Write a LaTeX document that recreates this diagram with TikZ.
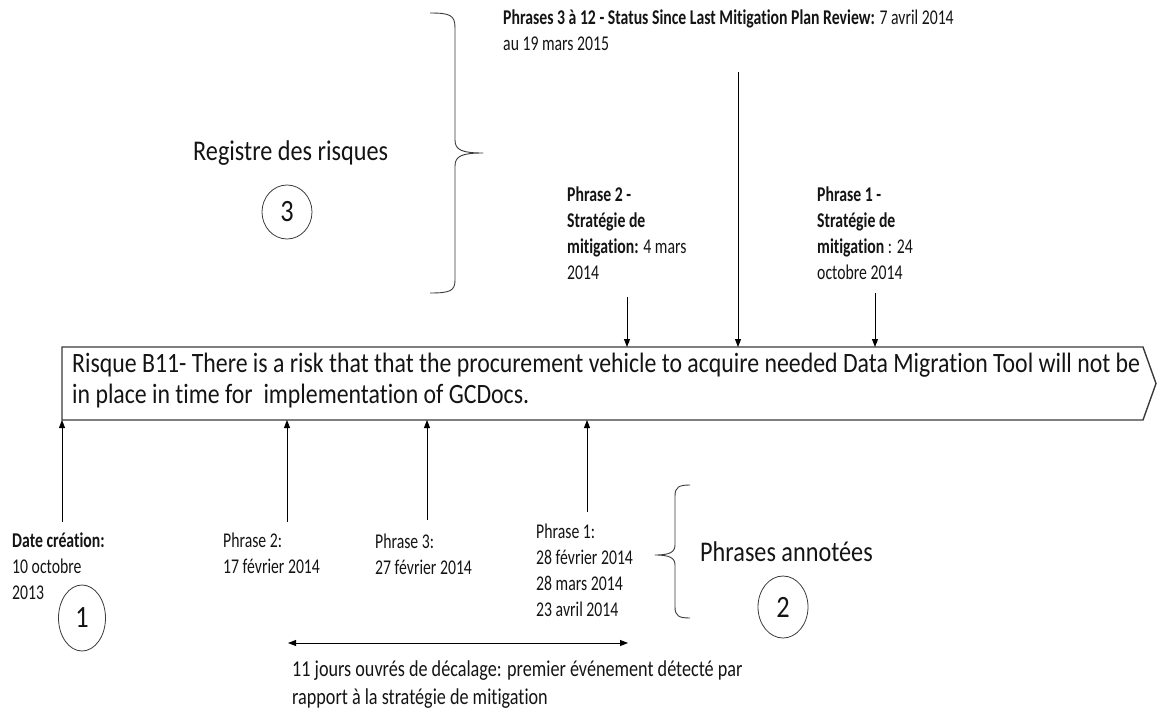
\documentclass[tikz,border=0pt]{standalone}
\usepackage{fontspec}
\usetikzlibrary{arrows.meta,shapes.geometric}
\newfontfamily\smallfnt[FakeStretch=0.75,Ligatures=NoCommon]{Carlito}
\newfontfamily\midfnt[FakeStretch=0.80,Ligatures=NoCommon]{Carlito}
\newfontfamily\bigfnt[FakeStretch=0.85,Ligatures=NoCommon]{Carlito}
\definecolor{ink}{HTML}{141414}
\definecolor{edge}{HTML}{3A3A3A}

\begin{document}
\begin{tikzpicture}[x=1pt,y=-1pt,
  % multi-line labels are placed by the baseline of their last line
  lbl/.style={inner sep=0pt, anchor=base west, align=left, text=ink,
              font=\smallfnt\fontsize{21}{26}\selectfont},
  note/.style={inner sep=0pt, anchor=base west, align=left, text=ink,
              font=\midfnt\fontsize{22.7}{28}\selectfont},
  big/.style={inner sep=0pt, anchor=base west, align=left, text=ink,
              font=\bigfnt\fontsize{28.5}{31}\selectfont},
  num/.style={draw=edge, line width=0.8pt, ellipse, inner sep=0pt, text=ink,
              font=\bigfnt\fontsize{31}{32}\selectfont},
  arr/.style={draw=black, line width=0.9pt, -{Triangle[length=8pt,width=6pt]}},
  twoarr/.style={draw=black, line width=0.9pt,
                 {Triangle[length=8pt,width=6pt]}-{Triangle[length=8pt,width=6pt]}},
  brace/.style={draw=edge, line width=0.9pt, line join=round},
]
\useasboundingbox (0,0) rectangle (1157,715);

% risk banner
\draw[draw=edge, line width=1.4pt, line join=miter]
  (62,347) -- (1143,347) -- (1156,383.5) -- (1143,420) -- (62,420) -- cycle;
\coordinate (boxtop) at (62,347);
\coordinate (boxbot) at (62,420);
\node[big, font=\bigfnt\fontsize{28}{31}\selectfont] (risk) at (72,403)
  {Risque B11- There is a risk that that the procurement vehicle to acquire needed Data Migration Tool will not be\\
   in place in time for~ implementation of GCDocs.};

% top block: risk register
\node[lbl] (status) at (503,50)
  {\textbf{Phrases 3 à 12 - Status Since Last Mitigation Plan Review:} 7 avril 2014\\au 19 mars 2015};
\node[lbl] (strat2) at (567,279)
  {\textbf{Phrase 2 -}\\\textbf{Stratégie de}\\\textbf{mitigation:} 4 mars\\2014};
\node[lbl] (strat1) at (817,279)
  {\textbf{Phrase 1 -}\\\textbf{Stratégie de}\\\textbf{mitigation} : 24\\octobre 2014};

\coordinate (d1) at (627,297);
\coordinate (d2) at (738,72);
\coordinate (d3) at (875,293);
\draw[arr] (d1) -- (d1 |- boxtop);
\draw[arr] (d2) -- (d2 |- boxtop);
\draw[arr] (d3) -- (d3 |- boxtop);

\node[big] (registre) at (193,160) {Registre des risques};
\node[num, minimum width=50pt, minimum height=54pt] (n3) at (287,212) {3};

% right-pointing brace
\draw[brace] (430,13) .. controls (450,13) and (455,15) .. (455,28)
  -- (455,140) .. controls (455,150) and (462,153) .. (483,153)
  .. controls (462,153) and (455,156) .. (455,166)
  -- (455,280) .. controls (455,291) and (450,293) .. (430,293);

% bottom block: annotated phrases
\node[lbl] (creation) at (12,599) {\textbf{Date création:}\\10 octobre\\2013};
\node[lbl] (ph2) at (223,573) {Phrase 2:\\17 février 2014};
\node[lbl] (ph3) at (375,574) {Phrase 3:\\27 février 2014};
\node[lbl] (ph1) at (536,616) {Phrase 1:\\28 février 2014\\28 mars 2014\\23 avril 2014};

\coordinate (u1) at (62,522);
\coordinate (u2) at (287,522);
\coordinate (u3) at (427,520);
\coordinate (u4) at (587,512);
\draw[arr] (u1) -- (u1 |- boxbot);
\draw[arr] (u2) -- (u2 |- boxbot);
\draw[arr] (u3) -- (u3 |- boxbot);
\draw[arr] (u4) -- (u4 |- boxbot);

\node[num, minimum width=47pt, minimum height=66pt] (n1) at (82,618) {1};

% left-pointing brace
\draw[brace] (690,485) .. controls (679,485) and (675,487) .. (675,496)
  -- (675,545) .. controls (675,552) and (670,555) .. (655,555)
  .. controls (670,555) and (675,558) .. (675,565)
  -- (675,607) .. controls (675,616) and (679,618) .. (690,618);

\node[big] (annot) at (700,561) {Phrases annotées};
\node[num, minimum width=50pt, minimum height=62pt] (n2) at (783,607) {2};

% lag between detection and mitigation strategy
\coordinate (g1) at (288,643);
\coordinate (g2) at (628,643);
\draw[twoarr] (g1) -- (g2);
\node[note] (lag) at (292,704)
  {11 jours ouvrés de décalage: premier événement détecté par\\rapport à la stratégie de mitigation};
\end{tikzpicture}
\end{document}
